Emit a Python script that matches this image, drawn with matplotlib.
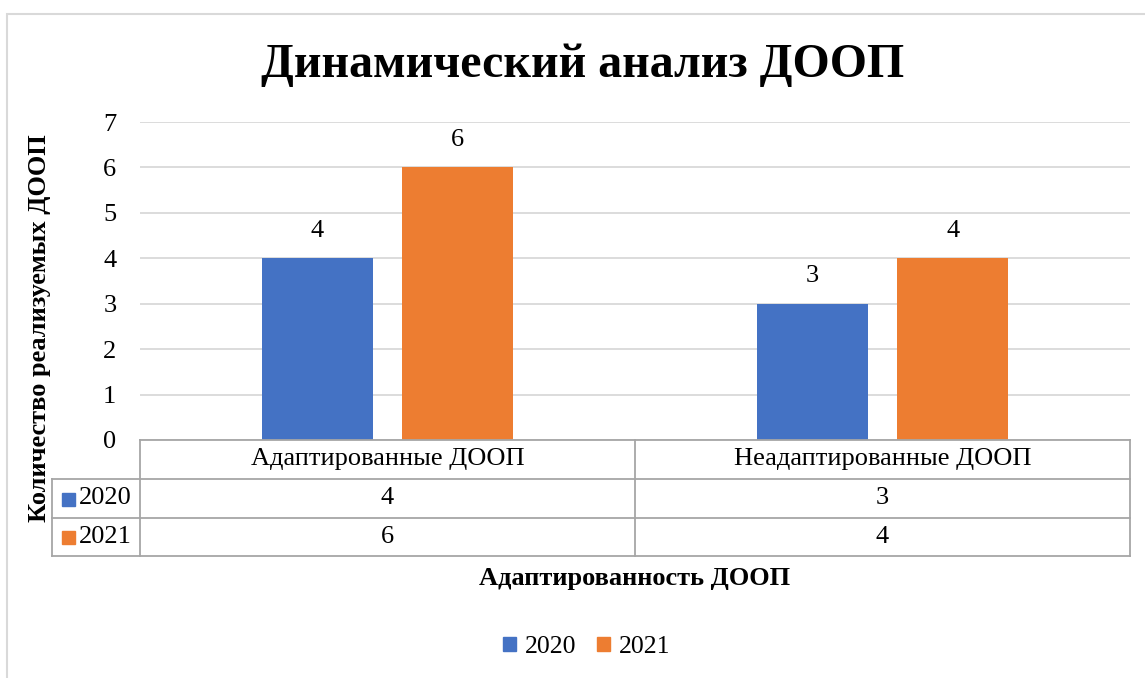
import matplotlib.pyplot as plt
from matplotlib.lines import Line2D
from matplotlib.patches import Rectangle, Patch

categories = ["Адаптированные ДООП", "Неадаптированные ДООП"]
series_names = ["2020", "2021"]
values_2020 = [4, 3]
values_2021 = [6, 4]
colors = ["#4472C4", "#ED7D31"]

plt.rcParams["font.family"] = ["Liberation Serif", "DejaVu Serif"]

W, H = 1145, 678
fig = plt.figure(figsize=(W / 100, H / 100), dpi=100)


def fx(px):
    return px / W


def fy(py):
    return 1 - py / H


# outer chart border
fig.add_artist(Rectangle((fx(7), fy(700)), fx(1160) - fx(7), fy(14) - fy(700),
                         transform=fig.transFigure, fill=False,
                         edgecolor="#D9D9D9", lw=1.5))

ax_l, ax_r, ax_t, ax_b = 140, 1130, 122, 440
ax = fig.add_axes([fx(ax_l), fy(ax_b), fx(ax_r) - fx(ax_l), fy(ax_t) - fy(ax_b)])

x = list(range(len(categories)))
off, bw = 0.142, 0.224
series = [values_2020, values_2021]
for k, vals in enumerate(series):
    pos = [i + (k - 0.5) * 2 * off for i in x]
    bars = ax.bar(pos, vals, width=bw, color=colors[k], zorder=3)
    for b, v in zip(bars, vals):
        ax.annotate(str(v), (b.get_x() + b.get_width() / 2, v), xytext=(0, 12),
                    textcoords="offset points", ha="center", va="bottom", fontsize=19)

ax.set_xlim(-0.5, len(categories) - 0.5)
ax.set_ylim(0, 7)
ax.set_yticks(range(8))
ax.tick_params(axis="y", length=0, pad=17, labelsize=19)
ax.set_xticks([])
ax.grid(axis="y", color="#D9D9D9", lw=1.3, zorder=0)
for s in ax.spines.values():
    s.set_visible(False)

# data table under the axis
tcol = "#A6A6A6"
rows = [440, 479, 518, 556]
col_x = [ax_l, 635, ax_r]
lab_l = 52


def hline(y, x0, x1):
    fig.add_artist(Line2D([fx(x0), fx(x1)], [fy(y), fy(y)], color=tcol, lw=1.3))


def vline(xp, y0, y1):
    fig.add_artist(Line2D([fx(xp), fx(xp)], [fy(y0), fy(y1)], color=tcol, lw=1.3))


hline(rows[0], ax_l, ax_r)
for r in rows[1:]:
    hline(r, lab_l, ax_r)
for c in col_x:
    vline(c, rows[0], rows[-1])
vline(lab_l, rows[1], rows[-1])

for j, cat in enumerate(categories):
    cx = (col_x[j] + col_x[j + 1]) / 2
    fig.text(fx(cx), fy((rows[0] + rows[1]) / 2), cat, ha="center", va="center", fontsize=19)
    for k, vals in enumerate(series):
        fig.text(fx(cx), fy((rows[k + 1] + rows[k + 2]) / 2), str(vals[j]),
                 ha="center", va="center", fontsize=19)

for k, name in enumerate(series_names):
    cy = (rows[k + 1] + rows[k + 2]) / 2
    fig.add_artist(Rectangle((fx(62), fy(cy + 7)), fx(13), fx(13) * W / H,
                             transform=fig.transFigure, color=colors[k]))
    fig.text(fx(79), fy(cy), name, ha="left", va="center", fontsize=19)

fig.text(fx(583), fy(65), "Динамический анализ ДООП", ha="center", va="center",
         fontsize=34.5, fontweight="bold")
fig.text(fx(40), fy(328), "Количество реализуемых ДООП", ha="center", va="center",
         rotation=90, fontsize=19, fontweight="bold", zorder=10)
fig.text(fx(635), fy(578), "Адаптированность ДООП", ha="center", va="center",
         fontsize=19, fontweight="bold")

handles = [Patch(color=c) for c in colors]
fig.legend(handles, series_names, loc="center", bbox_to_anchor=(fx(587), fy(647)),
           ncol=2, frameon=False, fontsize=18.5, handlelength=0.5, handleheight=0.5,
           handletextpad=0.35, columnspacing=0.8)

fig.savefig("out.png", dpi=100)
